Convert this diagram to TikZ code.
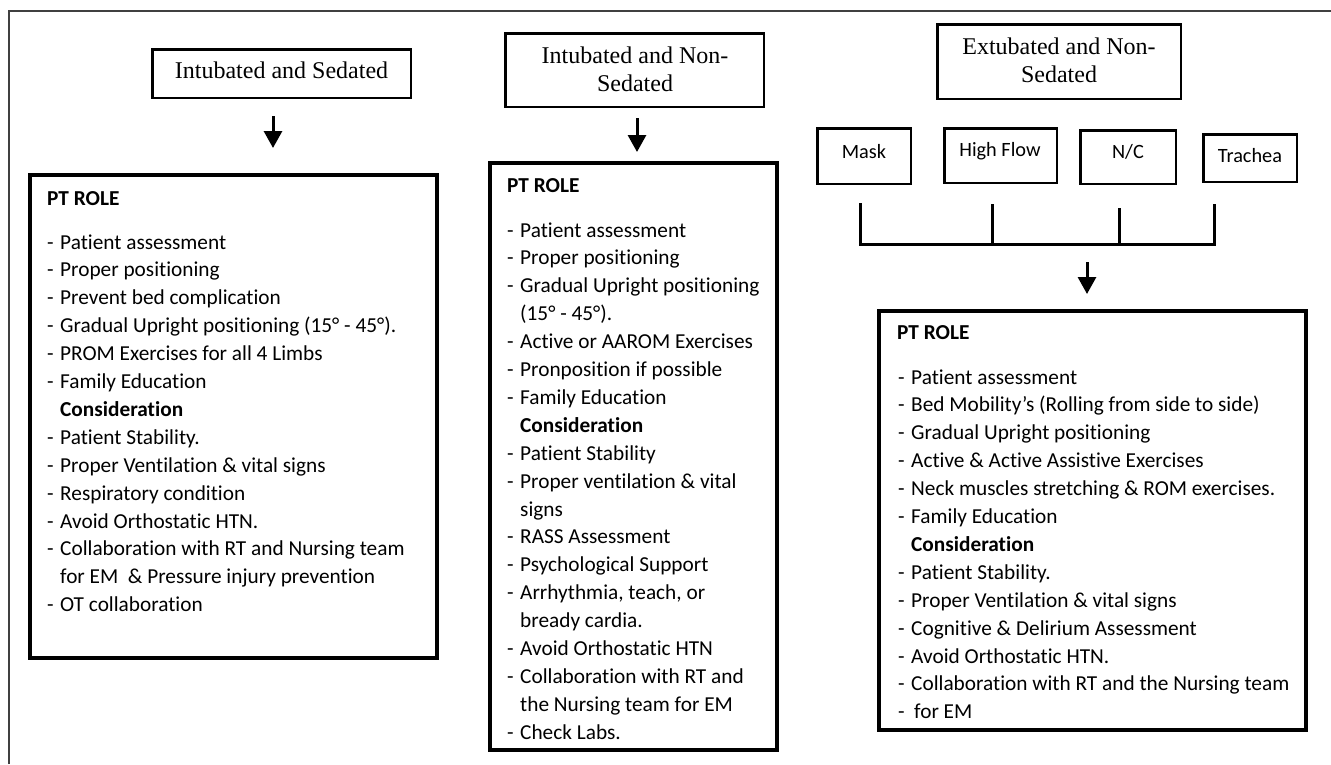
\documentclass[tikz,border=0pt]{standalone}
\usepackage{fontspec}
\setmainfont{Carlito}[Ligatures={NoCommon}]
\newfontfamily\serifhead{Liberation Serif}
\usetikzlibrary{arrows.meta}
\newcommand{\dashitem}[1]{\makebox[13pt][l]{-}#1\par}
\newcommand{\plainitem}[1]{\hspace*{13pt}#1\par}
\newcommand{\listfont}{\fontsize{21.3}{27.9}\selectfont}
\begin{document}
\begin{tikzpicture}[x=1pt,y=-1pt,
  hdr/.style={draw, line width=2.5pt, inner sep=0},
  hdrtxt/.style={font=\serifhead\fontsize{24}{28}\selectfont, align=center, inner sep=0},
  rolebox/.style={draw, line width=4pt, inner sep=0},
  smallbox/.style={draw, line width=2.5pt, inner sep=0},
  smalltxt/.style={font=\fontsize{20.3}{24}\selectfont, inner sep=0, anchor=base},
  listtxt/.style={anchor=base west, inner sep=0},
  titletxt/.style={anchor=base west, inner sep=0, font=\bfseries\fontsize{21.3}{27.9}\selectfont},
  flowarrow/.style={line width=3pt, -{Triangle[width=18pt,length=17pt]}},
  bracketline/.style={line width=3pt},
  frameline/.style={line width=1.3pt, draw=black!75}
]
\useasboundingbox (0,0) rectangle (1331,764);
% outer frame
\coordinate (fbl) at (9,764);
\coordinate (ftl) at (9,11);
\coordinate (ftr) at (1331,11);
\draw[frameline] (fbl) -- (ftl) -- (ftr);

% headers
\node[hdr, minimum width=258.5pt, minimum height=48.5pt] (h1) at (281.5,73.5) {};
\node[hdrtxt, anchor=base] (h1t) at (281.5,78) {Intubated and Sedated};
\node[hdr, minimum width=258.5pt, minimum height=73.5pt] (h2) at (634.5,70) {};
\node[hdrtxt] (h2t) at (635,69) {Intubated and Non-\\Sedated};
\node[hdr, minimum width=243.5pt, minimum height=74.5pt] (h3) at (1059,61.5) {};
\node[hdrtxt] (h3t) at (1059,60) {Extubated and Non-\\Sedated};

% small boxes
\node[smallbox, minimum width=93.5pt, minimum height=55.5pt] (mask) at (864,156) {};
\node[smalltxt] (maskt) at (864,158) {Mask};
\node[smallbox, minimum width=112.5pt, minimum height=54.5pt] (hf) at (1000.5,155.5) {};
\node[smalltxt] (hft) at (1000,156) {High Flow};
\node[smallbox, minimum width=95.5pt, minimum height=53.5pt] (nc) at (1128,157) {};
\node[smalltxt] (nct) at (1128,158) {N/C};
\node[smallbox, minimum width=93.5pt, minimum height=47.5pt] (tr) at (1250,158) {};
\node[smalltxt] (trt) at (1250,162) {Trachea};

% bracket
\coordinate (b1) at (860,203);
\coordinate (b1b) at (860,244);
\coordinate (b4) at (1214,204);
\coordinate (b4b) at (1214,244);
\coordinate (b2) at (992,204);
\coordinate (b2b) at (992,244);
\coordinate (b3) at (1119,208);
\coordinate (b3b) at (1119,244);
\draw[bracketline] (b1) -- (b1b) -- (b4b) -- (b4);
\draw[bracketline] (b2) -- (b2b);
\draw[bracketline] (b3) -- (b3b);

% arrows
\coordinate (a1s) at (273,116); \coordinate (a1e) at (273,148);
\coordinate (a2s) at (637,118); \coordinate (a2e) at (637,152);
\coordinate (a3s) at (1087,262); \coordinate (a3e) at (1087,294);
\draw[flowarrow] (a1s) -- (a1e);
\draw[flowarrow] (a2s) -- (a2e);
\draw[flowarrow] (a3s) -- (a3e);

% role boxes
\node[rolebox, minimum width=407pt, minimum height=483pt] (p1) at (233.5,416.5) {};
\node[rolebox, minimum width=287pt, minimum height=587pt] (p2) at (633.5,456.5) {};
\node[rolebox, minimum width=427pt, minimum height=419pt] (p3) at (1092.5,520.5) {};

% box 1 text
\node[titletxt] (p1title) at (47,205) {PT ROLE};
\node[listtxt] (p1list) at (47,249) {\parbox[t]{385pt}{\listfont\parindent=0pt\parskip=0pt
\dashitem{Patient assessment}
\dashitem{Proper positioning}
\dashitem{Prevent bed complication}
\dashitem{Gradual Upright positioning (15° - 45°).}
\dashitem{PROM Exercises for all 4 Limbs}
\dashitem{Family Education}
\plainitem{\textbf{Consideration}}
\dashitem{Patient Stability.}
\dashitem{Proper Ventilation \& vital signs}
\dashitem{Respiratory condition}
\dashitem{Avoid Orthostatic HTN.}
\dashitem{Collaboration with RT and Nursing team}
\plainitem{for EM \ \& Pressure injury prevention}
\dashitem{OT collaboration}}};

% box 2 text
\node[titletxt] (p2title) at (507,192) {PT ROLE};
\node[listtxt] (p2list) at (507,237) {\parbox[t]{268pt}{\listfont\parindent=0pt\parskip=0pt
\dashitem{Patient assessment}
\dashitem{Proper positioning}
\dashitem{Gradual Upright positioning}
\plainitem{(15° - 45°).}
\dashitem{Active or AAROM Exercises}
\dashitem{Pronposition if possible}
\dashitem{Family Education}
\plainitem{\textbf{Consideration}}
\dashitem{Patient Stability}
\dashitem{Proper ventilation \& vital}
\plainitem{signs}
\dashitem{RASS Assessment}
\dashitem{Psychological Support}
\dashitem{Arrhythmia, teach, or}
\plainitem{bready cardia.}
\dashitem{Avoid Orthostatic HTN}
\dashitem{Collaboration with RT and}
\plainitem{the Nursing team for EM}
\dashitem{Check Labs.}}};

% box 3 text
\node[titletxt] (p3title) at (897,339) {PT ROLE};
\node[listtxt] (p3list) at (898,384) {\parbox[t]{405pt}{\listfont\parindent=0pt\parskip=0pt
\dashitem{Patient assessment}
\dashitem{Bed Mobility’s (Rolling from side to side)}
\dashitem{Gradual Upright positioning}
\dashitem{Active \& Active Assistive Exercises}
\dashitem{Neck muscles stretching \& ROM exercises.}
\dashitem{Family Education}
\plainitem{\textbf{Consideration}}
\dashitem{Patient Stability.}
\dashitem{Proper Ventilation \& vital signs}
\dashitem{Cognitive \& Delirium Assessment}
\dashitem{Avoid Orthostatic HTN.}
\dashitem{Collaboration with RT and the Nursing team}
\dashitem{\hspace{3pt}for EM}}};
\end{tikzpicture}
\end{document}
